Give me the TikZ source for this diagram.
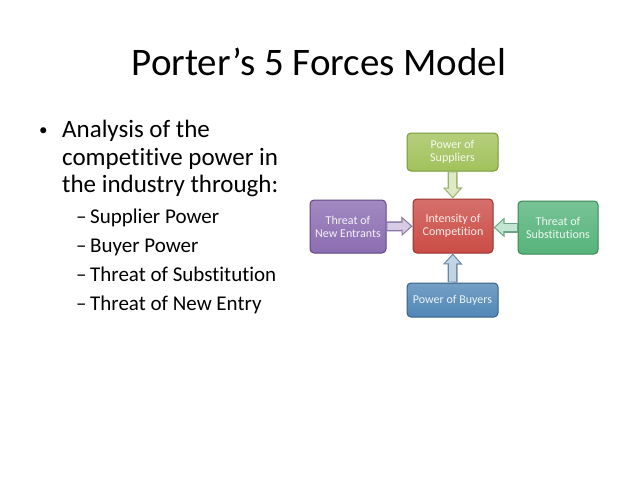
\documentclass[tikz,border=0pt]{standalone}
\usepackage{fontspec}
\setmainfont{Carlito}[Ligatures=NoCommon]
\usetikzlibrary{arrows.meta,positioning}

\definecolor{supC}{HTML}{A2C25C}
\definecolor{supD}{HTML}{789A38}
\definecolor{ctrC}{HTML}{CB4C46}
\definecolor{ctrD}{HTML}{98332F}
\definecolor{entC}{HTML}{8B6DB1}
\definecolor{entD}{HTML}{624986}
\definecolor{subC}{HTML}{56B47B}
\definecolor{subD}{HTML}{388857}
\definecolor{buyC}{HTML}{5187B6}
\definecolor{buyD}{HTML}{386287}

\begin{document}
\begin{tikzpicture}[
    x=1pt, y=-1pt,
    every node/.style={font=\fontsize{12}{13}\selectfont},
    fb/.style={rectangle, rounded corners=4pt, draw=#1D, line width=1pt,
               top color=#1C!80!white, bottom color=#1C, text=white!90!#1C,
               align=center, inner sep=1pt},
    frc/.style={line width=10pt, draw=#1D!75!white,
                -{Triangle[length=11pt, width=19pt]},
                postaction={draw=#1C!35!white, line width=7pt,
                  -{Triangle[length=8pt, width=14pt]}, shorten >=1.8pt, shorten <=0.8pt}},
    ttl/.style={font=\fontsize{39}{44}\selectfont, anchor=base},
    bl/.style={font=\fontsize{25}{28}\selectfont, anchor=base west, inner sep=0pt},
    sbl/.style={font=\fontsize{21}{24}\selectfont, anchor=base west, inner sep=0pt},
  ]
  \useasboundingbox (0,0) rectangle (638,479);
  \fill[white] (0,0) rectangle (638,479);

  % title and bullet list
  \node[ttl] (title) at (319,75) {Porter’s 5 Forces Model};
  \node[bl, font=\fontsize{17}{20}\selectfont] (dot) at (39,135) {•};
  \node[bl] (l1) at (62,137) {Analysis of the};
  \node[bl] (l2) at (62,165) {competitive power in};
  \node[bl] (l3) at (62,192) {the industry through:};
  \node[sbl] (d1) at (76,223) {–};
  \node[sbl] (s1) at (90,223) {Supplier Power};
  \node[sbl] (d2) at (76,252) {–};
  \node[sbl] (s2) at (90,252) {Buyer Power};
  \node[sbl] (d3) at (76,281) {–};
  \node[sbl] (s3) at (90,281) {Threat of Substitution};
  \node[sbl] (d4) at (76,310) {–};
  \node[sbl] (s4) at (90,310) {Threat of New Entry};

  % forces
  \node[fb=ctr, minimum width=80pt, minimum height=54pt] (ctr) at (453,226) {Intensity of\\Competition};
  \node[fb=sup, minimum width=91pt, minimum height=38pt] (sup) at (452.5,152) {Power of\\Suppliers};
  \node[fb=ent, minimum width=76pt, minimum height=53pt] (ent) at (348,226.5) {Threat of\\New Entrants};
  \node[fb=sub, minimum width=80pt, minimum height=53pt] (sub) at (558,227.5) {Threat of\\Substitutions};
  \node[fb=buy, minimum width=91pt, minimum height=34pt] (buy) at (452.5,300) {Power of Buyers};

  \draw[frc=sup] (sup) -- (ctr);
  \draw[frc=ent] (ent) -- (ctr);
  \draw[frc=sub] (sub.west) -- (ctr.east |- sub.west);
  \draw[frc=buy] (buy) -- (ctr);
\end{tikzpicture}
\end{document}
